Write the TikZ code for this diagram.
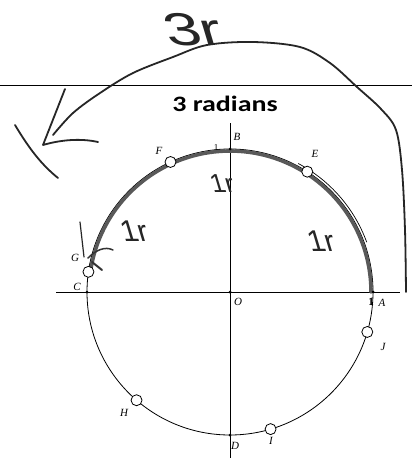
\documentclass[tikz,border=0pt]{standalone}
\usepackage{fontspec}
\setmainfont{Liberation Serif}
\newfontfamily\calib{Carlito}
\newfontfamily\handf{Liberation Sans}
\usetikzlibrary{calc}
\tikzset{
  lbl/.style={font=\fontsize{11}{11}\selectfont\itshape, inner sep=0pt},
  ptcirc/.style={circle, draw=black, fill=white, line width=0.8pt, minimum size=11pt, inner sep=0pt},
  dotm/.style={circle, fill=black, minimum size=3pt, inner sep=0pt},
  hand/.style={line width=1.8pt, line cap=round, line join=round, black!85},
  handtxt/.style={font=\handf\fontsize{30}{30}\selectfont, inner sep=0pt, text=black!85, xslant=-0.3, transform shape},
  thin/.style={line width=0.8pt}
}
\begin{document}
\begin{tikzpicture}[x=1pt,y=-1pt]
\useasboundingbox (0,0) rectangle (412,460);
\fill[white] (0,0) rectangle (412,460);
% top rule
\draw[thin] (0,85) -- (412,85);
\node[font=\calib\bfseries\fontsize{22}{22}\selectfont, anchor=base] (title) at (225,111) {\scalebox{1.27}[1]{3 radians}};
% axes
\coordinate (O) at (230,292);
\coordinate (xl) at (56,292);
\coordinate (xr) at (400,292);
\coordinate (yt) at (230,123);
\coordinate (yb) at (230,458);
\draw[thin] (xl) -- (xr);
\draw[thin] (yt) -- (yb);
% circle
\draw[thin] (O) circle[radius=143];
% thick hand-drawn arc A to G
\draw[line width=3.6pt, black!65, line cap=round] ($(O)+(0:141)$) arc[start angle=0, end angle=-171.9, radius=141];
\draw[line width=0.7pt] ($(O)+(-20:145.5)$) arc[start angle=-20, end angle=-62, radius=145.5];
% axis points
\node[dotm] (A) at ($(O)+(0:143)$) {};
\node[dotm] (B) at ($(O)+(-90:143)$) {};
\node[dotm] (C) at ($(O)+(180:143)$) {};
\node[dotm] (D) at ($(O)+(90:143)$) {};
\node[dotm] (Od) at (O) {};
% radian points
\node[ptcirc] (E) at ($(O)+(-57.2958:143)$) {};
\node[ptcirc] (F) at ($(O)+(-114.5916:143)$) {};
\node[ptcirc] (G) at ($(O)+(-171.8873:143)$) {};
\node[ptcirc] (H) at ($(O)+(-229.1831:143)$) {};
\node[ptcirc] (I) at ($(O)+(-286.4789:143)$) {};
\node[ptcirc] (J) at ($(O)+(-343.7747:143)$) {};
% labels
\node[lbl] (lF) at (159,151) {F};
\node[lbl] (lE) at (315,154) {E};
\node[lbl] (lG) at (75,258) {G};
\node[lbl] (lC) at (77,287) {C};
\node[lbl] (lO) at (238,302) {O};
\node[lbl] (lA) at (382,303) {A};
\node[lbl] (lJ) at (383,347) {J};
\node[lbl] (lH) at (124,413) {H};
\node[lbl] (lD) at (235,446) {D};
\node[lbl] (lI) at (271,441) {I};
\node[lbl] (lB) at (237,137) {B};
\node[font=\bfseries\fontsize{11}{11}\selectfont, inner sep=0pt] (one1) at (371,302) {1};
\node[font=\fontsize{9}{9}\selectfont, inner sep=0pt] (one2) at (216,148) {1};
% big hand-drawn arrow
\coordinate (s0) at (406,292);
\coordinate (s1) at (53,135);
\draw[hand] plot[smooth, tension=0.55] coordinates {(s0) (405,230) (402,170) (396,130) (381,109) (357,87) (330,63) (300,47) (253,42) (207,45) (173,57) (133,73) (100,93) (73,113) (s1)};
\coordinate (tip) at (43,145);
\coordinate (v1) at (65,89);
\coordinate (v2) at (98,142);
\draw[hand] (v1) -- (tip) .. controls (60,140) and (80,138) .. (v2);
\coordinate (w1) at (15,125);
\coordinate (w2) at (58,178);
\draw[hand] (w1) .. controls (30,150) and (42,165) .. (w2);
% marks near G
\coordinate (g1) at (80,222);
\coordinate (g2) at (84,257);
\draw[line width=1.2pt, black!85, line cap=round] (g1) -- (g2);
\draw[line width=1.5pt, black!80, line cap=round] (88,258) .. controls (96,250) and (105,246) .. (113,250);
\draw[line width=2pt, black!80, line cap=round] (92,262) -- (102,270);
% handwritten labels
\node[handtxt, anchor=center] (t3r) at (193,30) {\fontsize{46}{46}\selectfont\scalebox{1.4}[1]{3r}};
\node[handtxt, font=\handf\fontsize{26}{26}\selectfont] (t1a) at (222,184) {1r};
\node[handtxt] (t1b) at (321,241) {1r};
\node[handtxt] (t1c) at (134,231) {1r};
\end{tikzpicture}
\end{document}
